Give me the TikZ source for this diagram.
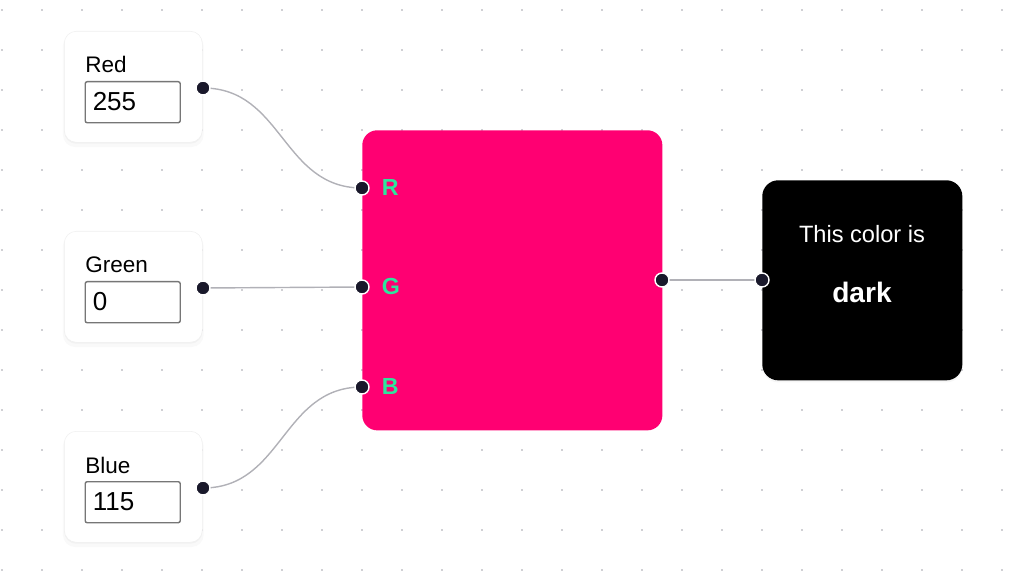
\documentclass[tikz,border=0pt]{standalone}
\usepackage{fontspec}
\setmainfont{Liberation Sans}
\usepackage{tikz}
\usetikzlibrary{positioning}
\usetikzlibrary{backgrounds}
\usetikzlibrary{shadows}
\definecolor{mixpink}{HTML}{FF0072}
\definecolor{handlecol}{HTML}{1A192B}
\definecolor{wirecol}{HTML}{B1B1B7}
\definecolor{fieldcol}{HTML}{767676}
\definecolor{gridcol}{HTML}{A0A0A8}
\definecolor{chancol}{HTML}{2EE59D}

\begin{document}
\begin{tikzpicture}[x=0.025cm, y=-0.025cm,
		inbox/.style={draw=black!6, fill=white, rounded corners=0.3cm, minimum width=3.45cm, minimum height=2.775cm, anchor=north west, inner sep=0, drop shadow={opacity=0.05, shadow xshift=0pt, shadow yshift=-2.5pt, shadow scale=1.02}, drop shadow={opacity=0.06, shadow xshift=0pt, shadow yshift=-1pt}},
		field/.style={draw=fieldcol, line width=1pt, rounded corners=0.05cm, minimum width=2.375cm, minimum height=1.025cm, anchor=north west, inner sep=0},
		lbl/.style={anchor=base west, inner sep=0, font=\fontsize{16}{19}\selectfont},
		val/.style={anchor=base west, inner sep=0, font=\fontsize{18.5}{22}\selectfont},
		handle/.style={circle, fill=handlecol, draw=white, line width=1pt, inner sep=0, minimum size=0.35cm},
		chan/.style={anchor=west, inner sep=0, text=chancol, font=\bfseries\fontsize{16.5}{19}\selectfont},
		wire/.style={draw=wirecol, line width=1pt}]
			\useasboundingbox (0,0) rectangle (1024,576); % marco
			\foreach \name/\txt/\num/\y in {red/Red/255/0, green/Green/0/200, blue/Blue/115/400} {
				\node [inbox] (\name) at (64,31+\y) {}; % caja de entrada
				\node [lbl] (\name-lbl) at (85,73+\y) {\txt};
				\node [field] (\name-field) at (84.5,81+\y) {}; % campo
				\node [val] (\name-val) at (92.5,110.7+\y) {\num};
				\node [handle] (\name-out) at (203,88+\y) {};
			}
			\node [fill=mixpink, rounded corners=0.375cm, minimum width=7.5cm, minimum height=7.5cm, anchor=north west, inner sep=0] (mix) at (362,130) {}; % caja rosa
			\node [handle] (mix-r) at (362,188) {};
			\node [handle] (mix-g) at (362,287) {};
			\node [handle] (mix-b) at (362,387) {};
			\node [handle] (mix-out) at (662,280) {};
			\node [chan, right=0.3cm of mix-r] (chan-r) {R};
			\node [chan, right=0.3cm of mix-g] (chan-g) {G};
			\node [chan, right=0.3cm of mix-b] (chan-b) {B};
			% \node [chan] at (391,388) {B};
			\node [fill=black, rounded corners=0.4cm, minimum size=5cm, anchor=north west, inner sep=0, drop shadow={opacity=0.07, shadow xshift=0pt, shadow yshift=-1.5pt}] (result) at (762,180) {}; % caja negra
			\node [handle] (result-in) at (762,280) {};
			\node [anchor=base, inner sep=0, text=white, font=\fontsize{16.8}{20}\selectfont] (result-txt) at (862,242.7) {This color is};
			\node [anchor=base, inner sep=0, text=white, font=\bfseries\fontsize{20}{24}\selectfont] (result-val) at (862,303) {dark};
			\begin{scope}[on background layer]
				\foreach \i in {0,...,25} \foreach \j in {0,...,14} \fill [gridcol] (2+40*\i,10+40*\j) circle (0.55pt); % puntos
				\draw [wire] (red-out.center) .. controls +(80,0) and +(-80,0) .. (mix-r.center);
				\draw [wire] (green-out.center) -- (mix-g.center);
				\draw [wire] (blue-out.center) .. controls +(80,0) and +(-80,0) .. (mix-b.center);
				\draw [wire] (mix-out.center) -- (result-in.center); % salida
			\end{scope}
		\end{tikzpicture}
\end{document}
